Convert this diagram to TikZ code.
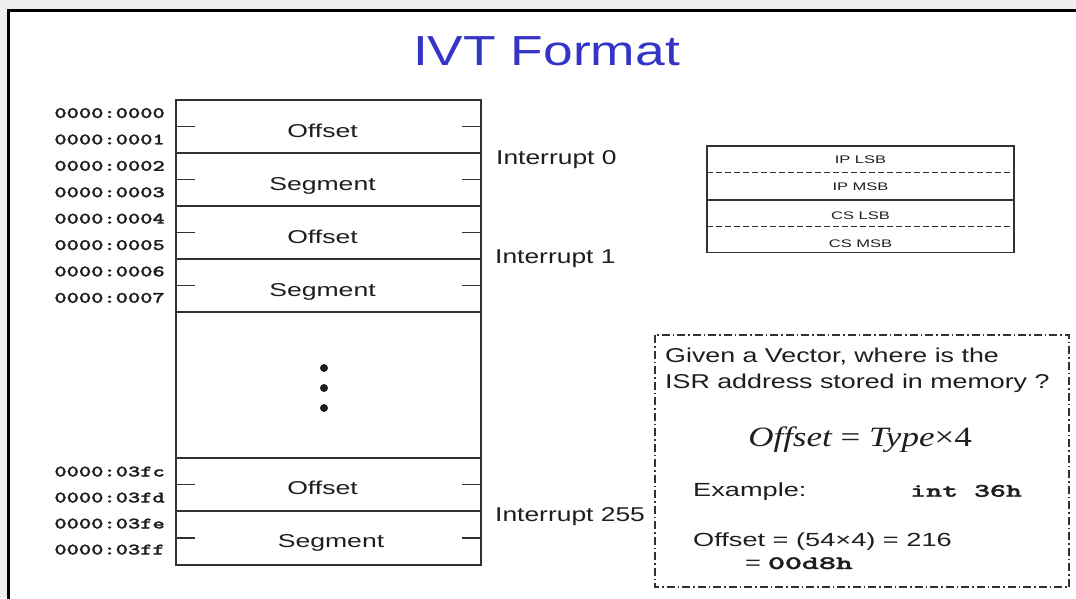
\documentclass[tikz,border=0pt]{standalone}
\usepackage{fontspec}
\usepackage{graphicx}
\setmainfont{Liberation Sans}
\newfontfamily\seriff{Liberation Serif}
\newfontfamily\codef{lmmonolt10-bold.otf}[FakeBold=1.2]
\newcommand\hs[2]{\scalebox{#1}[1]{#2}}
\definecolor{ink}{RGB}{30,30,30}
\definecolor{linec}{RGB}{50,50,50}
\definecolor{bgc}{RGB}{238,238,238}
\definecolor{titleblue}{RGB}{52,52,200}
\begin{document}
\begin{tikzpicture}[x=1pt,y=-1pt,
  tline/.style={draw=linec, line width=1.4pt},
  txt/.style={inner sep=0pt, text=ink},
  cell/.style={txt, anchor=base, font=\fontsize{18.6}{20}\selectfont},
  intr/.style={txt, anchor=base west, font=\fontsize{20}{22}\selectfont},
  addr/.style={txt, anchor=base east, font=\codef\fontsize{16}{16}\selectfont},
  small/.style={txt, anchor=base, font=\fontsize{11}{12}\selectfont},
  body/.style={txt, anchor=base west, font=\fontsize{19}{21}\selectfont},
  dotdash/.style={draw=linec, line width=1.3pt, dash pattern=on 8pt off 3pt on 1.5pt off 3pt},
  ipdash/.style={draw=linec, line width=1.1pt, dash pattern=on 6pt off 3pt}]
\useasboundingbox (0,0) rectangle (1076,598);
\fill[bgc] (0,0) rectangle (1076,598);
\filldraw[fill=white, draw=black, line width=3pt] (8.5,10.5) rectangle (1100,620);

% title
\node[txt, anchor=base, text=titleblue, font=\fontsize{42}{44}\selectfont] (title) at (546.5,65) {\hs{1.27}{IVT Format}};

% memory table
\draw[tline] (176,100) rectangle (481,565);
\foreach \y in {153,206,259,312,458,511} \draw[tline] (176,\y) -- (481,\y);
\foreach \y in {126.5,179.5,232.5,285.5,484.5,538} {
  \draw[tline] (176,\y) -- (195,\y);
  \draw[tline] (462,\y) -- (481,\y);
}
\foreach \y in {368,388,408} \fill[ink] (324,\y) circle[radius=4pt];

\node[cell] (o0) at (322.5,137) {\hs{1.43}{Offset}};
\node[cell] (s0) at (322.5,190) {\hs{1.43}{Segment}};
\node[cell] (o1) at (322.5,243) {\hs{1.43}{Offset}};
\node[cell] (s1) at (322.5,296) {\hs{1.43}{Segment}};
\node[cell] (o255) at (322.5,494.5) {\hs{1.43}{Offset}};
\node[cell] (s255) at (331,547) {\hs{1.43}{Segment}};

\node[intr] (i0) at (496,164) {\hs{1.32}{Interrupt 0}};
\node[intr] (i1) at (495,263) {\hs{1.32}{Interrupt 1}};
\node[intr] (i255) at (495,521) {\hs{1.32}{Interrupt 255}};

% addresses
\node[addr] (a0) at (165,118) {\hs{1.46}{0000:0000}};
\node[addr] (a1) at (165,144.4) {\hs{1.46}{0000:0001}};
\node[addr] (a2) at (165,170.8) {\hs{1.46}{0000:0002}};
\node[addr] (a3) at (165,197.2) {\hs{1.46}{0000:0003}};
\node[addr] (a4) at (165,223.6) {\hs{1.46}{0000:0004}};
\node[addr] (a5) at (165,250) {\hs{1.46}{0000:0005}};
\node[addr] (a6) at (165,276.4) {\hs{1.46}{0000:0006}};
\node[addr] (a7) at (165,302.8) {\hs{1.46}{0000:0007}};
\node[addr] (b0) at (165,476.5) {\hs{1.46}{0000:03fc}};
\node[addr] (b1) at (165,502.5) {\hs{1.46}{0000:03fd}};
\node[addr] (b2) at (165,528.5) {\hs{1.46}{0000:03fe}};
\node[addr] (b3) at (165,554.5) {\hs{1.46}{0000:03ff}};

% IP/CS box
\draw[draw=linec, line width=1.1pt] (707,146) rectangle (1014,252.7);
\draw[ipdash] (707,172.7) -- (1014,172.7);
\draw[draw=linec, line width=1.1pt] (707,200) -- (1014,200);
\draw[ipdash] (707,226.7) -- (1014,226.7);
\node[small] (ipl) at (860.5,163.3) {\hs{1.5}{IP LSB}};
\node[small] (ipm) at (860.5,190.5) {\hs{1.5}{IP MSB}};
\node[small] (csl) at (860.5,219) {\hs{1.5}{CS LSB}};
\node[small] (csm) at (860.5,247) {\hs{1.5}{CS MSB}};

% question box
\draw[dotdash] (655,335) rectangle (1069,587);
\node[txt, anchor=base west, font=\fontsize{20}{22}\selectfont] (q1) at (665,362.7) {\hs{1.34}{Given a Vector, where is the}};
\node[txt, anchor=base west, font=\fontsize{20}{22}\selectfont] (q2) at (665,388.3) {\hs{1.34}{ISR address stored in memory ?}};
\node[txt, anchor=base, font=\seriff\fontsize{28}{30}\selectfont] (f) at (860,446) {\hs{1.25}{\itshape Offset\upshape\ = \itshape Type\upshape{}×4}};
\node[body] (ex) at (693,496.7) {\hs{1.43}{Example:}};
\node[txt, anchor=base west, font=\codef\fontsize{19}{21}\selectfont] (int) at (910,496.7) {\hs{1.6}{int 36h}};
\node[body] (calc) at (693,546) {\hs{1.43}{Offset = (54×4) = 216}};
\node[body] (res) at (745,569) {\hs{1.43}{=}\hspace{7pt}\hs{1.7}{\codef 00d8h}};
\end{tikzpicture}
\end{document}
